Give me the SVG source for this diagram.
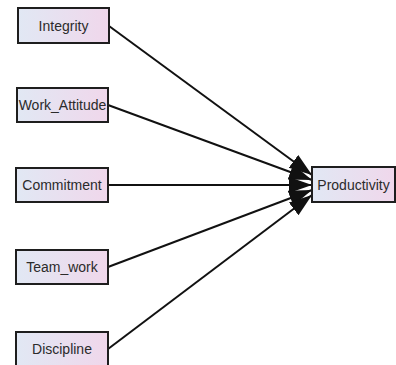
<svg xmlns="http://www.w3.org/2000/svg" width="396" height="365" viewBox="0 0 396 365">
  <style>
    .box { stroke: #1e1e1e; stroke-width: 2; fill: url(#boxFill); }
    .lbl { font-family: "Liberation Sans", Arial, sans-serif; font-size: 14px; fill: #2b2b2b; text-anchor: middle; dominant-baseline: central; }
    .edge { stroke: #111; stroke-width: 2; fill: none; marker-end: url(#head); }
  </style>
  <defs>
    <linearGradient id="boxFill" x1="0" y1="0" x2="1" y2="0">
      <stop offset="0" stop-color="#e1e8f4"/>
      <stop offset="1" stop-color="#f0d7eb"/>
    </linearGradient>
    <marker id="head" markerUnits="userSpaceOnUse" markerWidth="26" markerHeight="18" refX="23" refY="8" orient="auto">
      <path d="M0,0 L23,8 L0,16 Z" fill="#111"/>
    </marker>
  </defs>

  <g id="connectors">
    <line class="edge" x1="109" y1="26" x2="312" y2="175"/>
    <line class="edge" x1="108" y1="105" x2="312" y2="180"/>
    <line class="edge" x1="108" y1="185" x2="312" y2="185"/>
    <line class="edge" x1="108" y1="267" x2="312" y2="190"/>
    <line class="edge" x1="108" y1="349" x2="312" y2="195"/>
  </g>

  <g id="integrity">
    <rect class="box" x="18" y="8" width="91" height="35"/>
    <text class="lbl" x="63.5" y="26">Integrity</text>
  </g>
  <g id="work_attitude">
    <rect class="box" x="17" y="88" width="91" height="34"/>
    <text class="lbl" x="62.5" y="105">Work_Attitude</text>
  </g>
  <g id="commitment">
    <rect class="box" x="16" y="168" width="92" height="34"/>
    <text class="lbl" x="62" y="185">Commitment</text>
  </g>
  <g id="team_work">
    <rect class="box" x="16" y="250" width="92" height="34"/>
    <text class="lbl" x="62" y="267">Team_work</text>
  </g>
  <g id="discipline">
    <rect class="box" x="16" y="332" width="92" height="34"/>
    <text class="lbl" x="62" y="349">Discipline</text>
  </g>
  <g id="productivity">
    <rect class="box" x="312" y="167" width="83" height="35"/>
    <text class="lbl" x="353.5" y="185">Productivity</text>
  </g>
</svg>
